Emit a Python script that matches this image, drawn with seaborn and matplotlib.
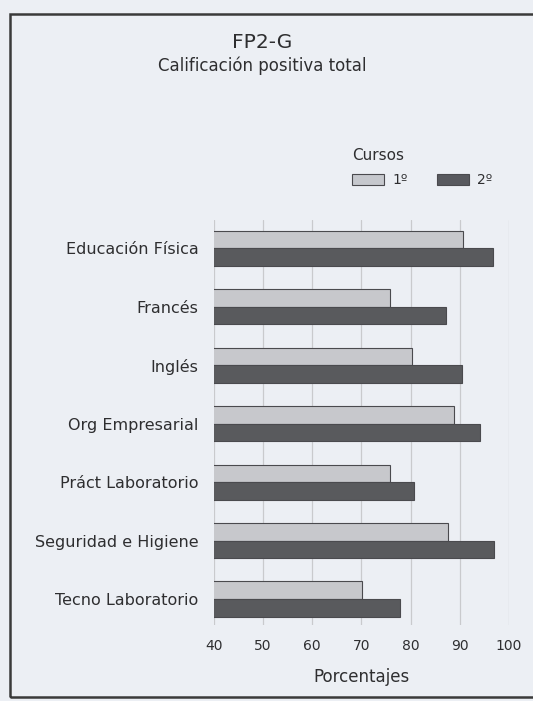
import numpy as np
import pandas as pd
import matplotlib
matplotlib.use("Agg")
import matplotlib.pyplot as plt
import seaborn as sns
from matplotlib.patches import Patch, Rectangle

# data
asignaturas = ["Educación Física", "Francés", "Inglés", "Org Empresarial",
               "Práct Laboratorio", "Seguridad e Higiene", "Tecno Laboratorio"]
curso_1 = [90.7, 75.8, 80.3, 88.9, 75.8, 87.6, 70.2]
curso_2 = [96.8, 87.2, 90.4, 94.1, 80.7, 96.9, 77.8]
cursos = ["1º", "2º"]
ticks_x = [40, 50, 60, 70, 80, 90, 100]

df = pd.DataFrame({
    "Asignatura": asignaturas * 2,
    "Curso": [cursos[0]] * len(asignaturas) + [cursos[1]] * len(asignaturas),
    "Porcentaje": curso_1 + curso_2,
})

bg = "#eceff4"
col_1 = "#c6c8cd"
col_2 = "#58595e"
txt = "#2e2e30"

sns.set_style("white")
plt.rcParams["font.family"] = ["DejaVu Sans"]

fig = plt.figure(figsize=(5.33, 7.01), dpi=100, facecolor=bg)
ax = fig.add_axes([0.401, 0.108, 0.554, 0.578])
ax.set_facecolor(bg)

# grid behind bars
ax.set_axisbelow(True)
ax.xaxis.grid(True, color="#c9cacd", linewidth=0.9)

sns.barplot(data=df, y="Asignatura", x="Porcentaje", hue="Curso",
            order=asignaturas, hue_order=cursos,
            palette=[col_1, col_2], width=0.6, orient="h",
            edgecolor="#4a4a4e", linewidth=0.8, ax=ax, legend=False)

ax.set_xlim(40, 100)
ax.set_ylim(6.45, -0.48)
ax.set_xticks(ticks_x)
ax.tick_params(axis="both", length=0, colors=txt)
ax.tick_params(axis="x", labelsize=10, pad=10)
ax.tick_params(axis="y", labelsize=11.5, pad=11)
ax.set_ylabel("")
ax.set_xlabel("Porcentajes", fontsize=12, color=txt, labelpad=11)
for s in ax.spines.values():
    s.set_visible(False)

# titles
fig.text(0.492, 0.940, "FP2-G", ha="center", va="center", fontsize=14.5, color=txt)
fig.text(0.492, 0.906, "Calificación positiva total", ha="center", va="center",
         fontsize=12, color=txt)

# legend
handles = [Patch(facecolor=col_1, edgecolor="#4a4a4e", linewidth=0.8),
           Patch(facecolor=col_2, edgecolor="#4a4a4e", linewidth=0.8)]
leg = fig.legend(handles, cursos, title="Cursos", ncol=2, frameon=False,
                 loc="upper left", bbox_to_anchor=(0.637, 0.806),
                 fontsize=10, title_fontsize=11, handlelength=2.3,
                 handleheight=0.8, handletextpad=0.6, columnspacing=2.1,
                 alignment="left", labelcolor=txt)
leg.get_title().set_color(txt)
leg._legend_box.sep = 7

# outer frame of the scanned page
fig.patches.append(Rectangle((10 / 533, 4 / 701), 0.99, 1 - 18 / 701,
                             transform=fig.transFigure, fill=False,
                             edgecolor="#3a3a3a", linewidth=1.8))

fig.savefig("out.png", dpi=100, facecolor=bg)
